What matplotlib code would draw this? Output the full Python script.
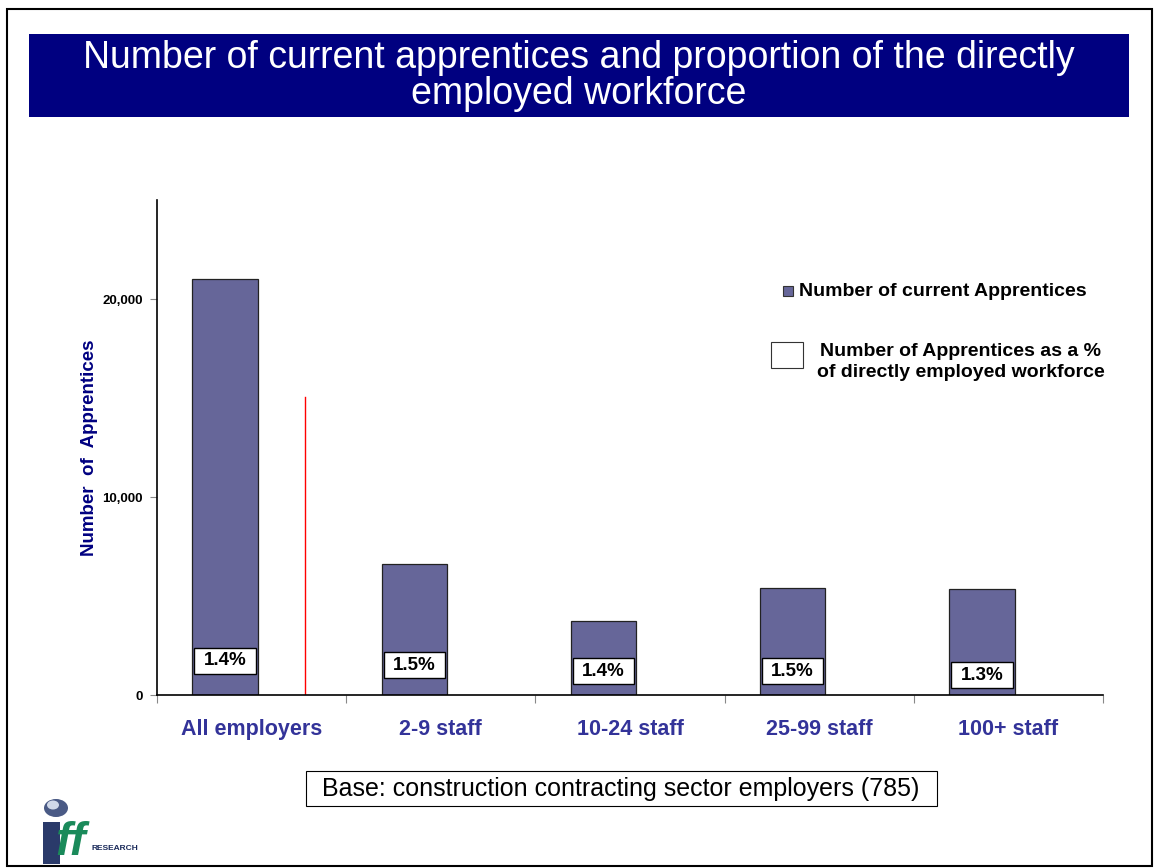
import matplotlib
matplotlib.use("Agg")
import matplotlib.pyplot as plt
from matplotlib.patches import Rectangle, Circle
import numpy as np

plt.rcParams['font.family'] = ['Liberation Sans', 'DejaVu Sans']

# ---- data ----
categories = ["All employers", "2-9 staff", "10-24 staff", "25-99 staff", "100+ staff"]
apprentices = [21000, 6600, 3750, 5400, 5350]
pct_labels = ["1.4%", "1.5%", "1.4%", "1.5%", "1.3%"]
pct_label_y = [1720, 1510, 1210, 1210, 1010]
red_line_value = 15050
y_ticks = [0, 10000, 20000]
y_tick_labels = ["0", "10,000", "20,000"]

title = "Number of current apprentices and proportion of the directly\nemployed workforce"
legend1 = "Number of current Apprentices"
legend2 = "Number of Apprentices as a %\nof directly employed workforce"
base_text = "Base: construction contracting sector employers (785)"

W, H = 1155, 868
fig = plt.figure(figsize=(W / 100, H / 100), dpi=100)

def fx(px):
    return px / W

def fy(py):
    return 1 - py / H

# outer frame
fig.add_artist(Rectangle((fx(7), fy(866)), fx(1152) - fx(7), fy(9) - fy(866),
                         transform=fig.transFigure, fill=False, edgecolor="black", lw=1.5))

# title banner
fig.add_artist(Rectangle((fx(29), fy(117)), fx(1129) - fx(29), fy(34) - fy(117),
                         transform=fig.transFigure, facecolor="#000080", edgecolor="none"))
fig.text(fx(579), fy(76), title, ha="center", va="center", color="white",
         fontsize=27, linespacing=1.03)

# axes
ax = fig.add_axes([fx(157), fy(695), fx(1103) - fx(157), fy(200) - fy(695)])
x = np.arange(len(categories))
bar_off = -0.14
bar_w = 0.345
ax.bar(x + bar_off, apprentices, width=bar_w, color="#666699", edgecolor="#222222", lw=0.9, zorder=2)

box_w = 0.325   # label box width in category units
box_h = 1320    # label box height in value units
for xi, lab, ly in zip(x, pct_labels, pct_label_y):
    ax.add_patch(Rectangle((xi + bar_off - box_w / 2, ly - box_h / 2), box_w, box_h,
                           facecolor="white", edgecolor="black", lw=1.0, zorder=3))
    ax.text(xi + bar_off, ly, lab, ha="center", va="center", fontsize=13.5, fontweight="bold",
            zorder=4)

# red marker line
ax.plot([x[0] + 0.28, x[0] + 0.28], [0, red_line_value], color="red", lw=1, zorder=2)

ax.set_xlim(-0.5, len(categories) - 0.5)
ax.set_ylim(0, 25000)
ax.set_yticks(y_ticks)
ax.set_yticklabels(y_tick_labels, fontsize=9.5, fontweight="bold")
ax.set_xticks(np.arange(len(categories) + 1) - 0.5)
ax.set_xticklabels([])
ax.set_xticks(x, minor=True)
ax.set_xticklabels(categories, minor=True, fontsize=15.5, fontweight="bold", color="#333399")
ax.tick_params(axis="x", which="minor", length=0, pad=17)
ax.tick_params(axis="x", which="major", length=6, color="#888888", direction="out")
ax.tick_params(axis="y", length=5, color="#888888", direction="out", pad=5)
for s in ["top", "right"]:
    ax.spines[s].set_visible(False)
ax.spines["left"].set_linewidth(1.2)
ax.spines["bottom"].set_linewidth(1.2)
ax.set_ylabel("Number  of  Apprentices", fontsize=13.5, fontweight="bold", color="#000080", labelpad=3)

# legend (manual)
fig.add_artist(Rectangle((fx(783), fy(296)), fx(793) - fx(783), fy(286) - fy(296),
                         transform=fig.transFigure, facecolor="#666699", edgecolor="#333333", lw=0.8))
fig.text(fx(799), fy(291), legend1, ha="left", va="center", fontsize=14, fontweight="bold")
fig.add_artist(Rectangle((fx(771), fy(368)), fx(803) - fx(771), fy(342) - fy(368),
                         transform=fig.transFigure, facecolor="white", edgecolor="#333333", lw=0.8))
fig.text(fx(961), fy(362), legend2, ha="center", va="center", fontsize=14, fontweight="bold",
         linespacing=1.25)

# base box
fig.add_artist(Rectangle((fx(306), fy(806)), fx(937) - fx(306), fy(771) - fy(806),
                         transform=fig.transFigure, facecolor="white", edgecolor="black", lw=0.8))
fig.text(fx(621), fy(789), base_text, ha="center", va="center", fontsize=18)

# logo approximation
fig.add_artist(Circle((fx(56), fy(808)), 12 / W, transform=fig.transFigure,
                      facecolor="#4a5a85", edgecolor="none"))
fig.add_artist(Circle((fx(53), fy(805)), 6 / W, transform=fig.transFigure,
                      facecolor="#d0d8e8", edgecolor="none"))
fig.add_artist(Rectangle((fx(43), fy(864)), fx(60) - fx(43), fy(822) - fy(864),
                         transform=fig.transFigure, facecolor="#2a3a6a", edgecolor="none"))
fig.text(fx(55), fy(843), "ff", ha="left", va="center", fontsize=34, fontweight="bold",
         fontstyle="italic", color="#1a8a5a")
fig.text(fx(92), fy(849), "RESEARCH", ha="left", va="center", fontsize=6, fontweight="bold",
         color="#1a2a5a")

fig.savefig("out.png", dpi=100)
